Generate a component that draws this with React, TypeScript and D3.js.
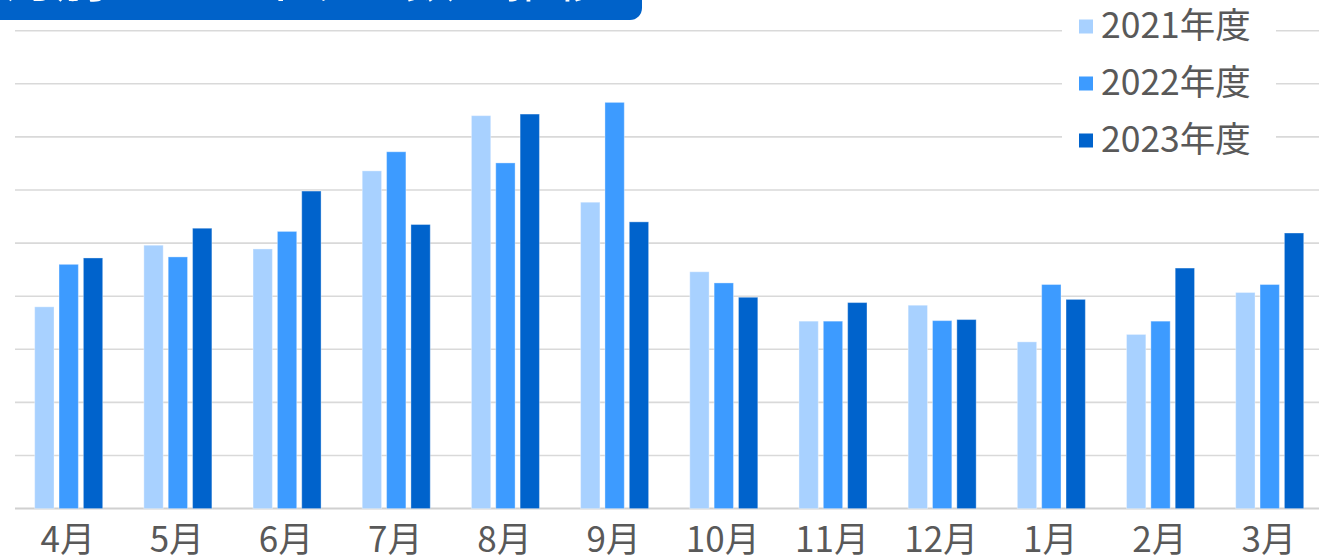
import React from "react";
import * as d3 from "d3";

const months = ["4月", "5月", "6月", "7月", "8月", "9月", "10月", "11月", "12月", "1月", "2月", "3月"];
const seriesNames = ["2021年度", "2022年度", "2023年度"];
const values2021 = [3.8, 4.96, 4.89, 6.36, 7.4, 5.77, 4.46, 3.53, 3.83, 3.14, 3.28, 4.07];
const values2022 = [4.6, 4.74, 5.22, 6.72, 6.51, 7.65, 4.25, 3.53, 3.54, 4.22, 3.53, 4.22];
const values2023 = [4.72, 5.28, 5.98, 5.35, 7.43, 5.4, 3.98, 3.88, 3.56, 3.94, 4.53, 5.19];
const gridTicks = [0, 1, 2, 3, 4, 5, 6, 7, 8, 9];
const titleText = "月別トラフィック数の推移";

const colors = ["#a8d1ff", "#3d9bff", "#0063cc"];
const W = 1319;
const H = 556;
const FONT = "'Noto Sans CJK JP', 'Noto Sans', sans-serif";

export default function App() {
  const series = [values2021, values2022, values2023];
  const x = d3.scaleBand<string>().domain(months).range([14.1, 1324.3]).paddingInner(0.377).paddingOuter(0.1885);
  const xs = d3.scaleBand<string>().domain(seriesNames).range([0, x.bandwidth()]).paddingInner(0.206).paddingOuter(0);
  const y = d3.scaleLinear().domain([0, 9]).range([508.6, 30.7]);

  return (
    <svg width={W} height={H} style={{ position: "absolute", left: 0, top: 0, background: "#fff" }}>
      {gridTicks.map((t) => (
        <line key={t} x1={15} x2={W} y1={y(t)} y2={y(t)} stroke={t === 0 ? "#d0d0d0" : "#d9d9d9"} strokeWidth={t === 0 ? 2 : 1.6} />
      ))}
      {months.map((m, i) => (
        <g key={m} transform={`translate(${x(m)},0)`}>
          {seriesNames.map((s, j) => (
            <rect
              key={s}
              x={xs(s)}
              y={y(series[j][i])}
              width={xs.bandwidth()}
              height={y(0) - y(series[j][i])}
              fill={colors[j]}
              stroke="#ffffff"
              strokeOpacity={0.35}
              strokeWidth={1}
            />
          ))}
        </g>
      ))}
      {months.map((m) => (
        <text key={m} x={(x(m) as number) + x.bandwidth() / 2 - 1} y={552} textAnchor="middle" fontFamily={FONT} fontSize={35} fill="#595959">
          {m}
        </text>
      ))}
      <rect x={1062} y={0} width={214} height={162} fill="#ffffff" />
      {seriesNames.map((s, j) => (
        <g key={s}>
          <rect x={1079} y={19.5 + j * 57} width={14} height={14} fill={colors[j]} />
          <text x={1101} y={38 + j * 57} fontFamily={FONT} fontSize={35.5} fill="#595959">
            {s}
          </text>
        </g>
      ))}
      <rect x={-20} y={-70} width={662} height={90} rx={12} ry={12} fill="#0062c9" />
      <text x={6} y={-3} fontFamily={FONT} fontSize={50} fontWeight="normal" fill="#ffffff">
        {titleText}
      </text>
    </svg>
  );
}
